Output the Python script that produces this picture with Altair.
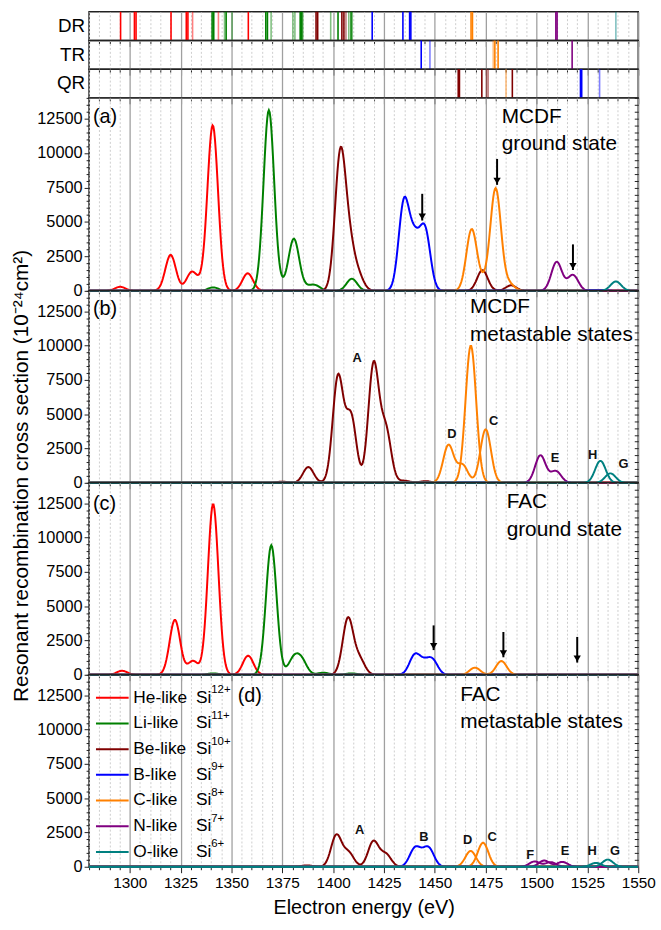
import numpy as np
import pandas as pd
import altair as alt

FONT = "Liberation Sans"
E_MIN, E_MAX = 1280, 1550
Y_MAX = 14000
SIGMA = 2.6
W = 555
H_STRIP = 29
H_MAIN = [195, 194, 194, 194]

SPECIES = ["He-like", "Li-like", "Be-like", "B-like", "C-like", "N-like", "O-like"]
CHARGES = ["12+", "11+", "10+", "9+", "8+", "7+", "6+"]
COLORS = ["#ff0000", "#008000", "#800000", "#0000ff", "#ff8000", "#800080", "#008080"]

# ---- resonance line positions in the DR / TR / QR strips (eV) ----
DR_E = [1295.5, 1302.3, 1303.1, 1320.3, 1327.8, 1328.6, 1330.9, 1343.6, 1358.3,
        1340.5, 1341.3, 1346.6, 1347.4, 1350.3, 1366.9, 1367.7, 1369.5, 1380.2, 1381.2,
        1383.8, 1384.6, 1385.1, 1398.8, 1402.4, 1407.7, 1408.8, 1409.4,
        1391.6, 1392.4, 1404.3, 1405.3, 1406.3,
        1419.2, 1434.3, 1437.6, 1438.2,
        1467.8, 1468.5, 1509.5, 1510.1, 1539.0]
DR_SP = ["He-like"] * 9 + ["Li-like"] * 18 + ["Be-like"] * 5 + ["B-like"] * 4 + \
        ["C-like"] * 2 + ["N-like"] * 2 + ["O-like"]
DR_FAINT = [0, 0, 0, 0, 0, 0, 1, 1, 0,
            0, 0, 1, 0, 1, 0, 0, 1, 1, 1,
            0, 0, 1, 1, 0, 1, 0, 1,
            0, 0, 0, 0, 1,
            0, 0, 0, 0,
            0, 0, 0, 0, 1]
TR_E = [1443.3, 1447.6, 1478.7, 1479.5, 1481.1, 1517.5]
TR_SP = ["B-like", "B-like", "C-like", "C-like", "C-like", "N-like"]
TR_FAINT = [0, 1, 1, 0, 0, 0]
QR_E = [1461.5, 1462.1, 1473.1, 1475.4, 1476.2, 1488.1, 1485.0, 1521.6, 1522.2, 1531.0]
QR_SP = ["Be-like"] * 6 + ["C-like"] + ["B-like"] * 3
QR_FAINT = [0, 0, 0, 1, 1, 0, 1, 0, 0, 1]

# ---- resonance peaks of each panel: species -> list of curves, curve = [(E, height)] ----
PEAKS_A = {
    "He-like": [[(1295.3, 290), (1320.1, 2600), (1330.4, 1300), (1334.5, 300),
                 (1340.8, 12000), (1358.0, 1270)]],
    "Li-like": [[(1341.0, 250), (1368.4, 13100), (1375.3, 200), (1380.7, 3750),
                 (1387.0, 200), (1391.1, 380), (1409.2, 880)]],
    "Be-like": [[(1403.5, 9700), (1408.0, 3000), (1412.5, 1000), (1473.4, 1500), (1487.5, 400)]],
    "B-like": [[(1434.8, 6300), (1440.0, 3300), (1445.2, 4300), (1527.0, 60), (1533.0, 60)]],
    "C-like": [[(1468.1, 4450), (1474.0, 500), (1479.9, 7400), (1486.5, 500)]],
    "N-like": [[(1509.9, 2100), (1517.9, 1150)]],
    "O-like": [[(1539.0, 680)]],
}
PEAKS_B = {
    "He-like": [[]],
    "Li-like": [[]],
    "Be-like": [[(1374.9, 80), (1387.8, 1150), (1402.4, 7700), (1408.8, 4800),
                 (1419.9, 8600), (1425.9, 3800), (1435.0, 150), (1445.4, 120)]],
    "B-like": [[]],
    "C-like": [[(1456.7, 2750), (1463.6, 1300), (1475.0, 3900)], [(1467.7, 10000)]],
    "N-like": [[(1501.9, 2000), (1509.5, 850)]],
    "O-like": [[(1531.4, 1600)], [(1536.3, 690)]],
}
PEAKS_C = {
    "He-like": [[(1296.2, 290), (1322.2, 4000), (1331.1, 1000), (1341.0, 12450), (1358.2, 1390)]],
    "Li-like": [[(1341.0, 100), (1369.6, 9450), (1380.5, 1100), (1384.5, 1000),
                 (1395.2, 150), (1409.0, 100)]],
    "Be-like": [[(1407.3, 4100), (1413.0, 1100)]],
    "B-like": [[(1440.0, 1350), (1444.4, 700), (1448.8, 1050)]],
    "C-like": [[(1469.7, 520), (1482.7, 1000)]],
    "N-like": [[]],
    "O-like": [[]],
}
PEAKS_D = {
    "He-like": [[]],
    "Li-like": [[]],
    "Be-like": [[(1387.1, 100), (1401.6, 2300), (1407.6, 1000), (1419.8, 1850), (1425.9, 900)]],
    "B-like": [[(1440.1, 1250), (1443.6, 400), (1447.1, 1250)]],
    "C-like": [[(1467.6, 1150)], [(1473.7, 1750)]],
    "N-like": [[(1499.0, 380), (1507.0, 330)], [(1503.8, 450), (1512.7, 350)]],
    "O-like": [[(1529.2, 280)], [(1535.0, 520)]],
}

# arrows: energy, top value, tip value
ARROWS_A = {"E": [1443.8, 1480.6, 1517.9], "top": [7040, 9570, 3370], "tip": [5100, 7690, 1510]}
ARROWS_C = {"E": [1449.4, 1483.7, 1520.0], "top": [3600, 3120, 2760], "tip": [1800, 1275, 890]}

# peak letters
LETTERS_B = {"t": ["A", "D", "C", "E", "H", "G"],
             "E": [1411.8, 1458.4, 1478.9, 1509.1, 1527.6, 1542.7],
             "v": [9080, 3550, 4520, 1820, 2000, 1390]}
LETTERS_D = {"t": ["A", "B", "D", "C", "F", "E", "H", "G"],
             "E": [1413.0, 1444.6, 1466.1, 1478.2, 1496.9, 1514.0, 1527.3, 1538.6],
             "v": [2650, 2140, 1925, 2140, 845, 1175, 1175, 1175]}

MAJOR = "datum.value % 25 == 0"


def curves_df(peaks):
    rows = []
    for sp in SPECIES:
        for k, pk in enumerate(peaks[sp]):
            sid = f"{sp}-{k}"
            if not pk:
                xs = np.array([E_MIN, E_MAX], float)
                ys = np.zeros(2)
            else:
                cs = [c for c, _ in pk]
                lo = max(E_MIN, min(cs) - 5 * SIGMA)
                hi = min(E_MAX, max(cs) + 5 * SIGMA)
                xs = np.arange(lo, hi + 1e-9, 0.4)
                ys = np.zeros_like(xs)
                for c, h in pk:
                    ys += h * np.exp(-(xs - c) ** 2 / (2 * SIGMA ** 2))
                xs = np.concatenate([[E_MIN], xs, [E_MAX]])
                ys = np.concatenate([[0.0], ys, [0.0]])
            for x, y in zip(xs, ys):
                rows.append((sid, sp, float(x), float(y)))
    return pd.DataFrame(rows, columns=["sid", "sp", "E", "v"])


def x_axis(bottom):
    kw = dict(values=list(range(E_MIN, E_MAX + 1, 5)), grid=True,
              gridDash={"condition": {"test": MAJOR, "value": []}, "value": [2, 2]},
              gridColor={"condition": {"test": MAJOR, "value": "#a0a0a0"}, "value": "#c8c8c8"},
              gridWidth={"condition": {"test": MAJOR, "value": 1.3}, "value": 0.9},
              tickSize={"condition": {"test": MAJOR, "value": 6}, "value": 3},
              tickColor="#222", tickWidth=1, domain=False,
              labels=bottom, labelExpr=f"{MAJOR} ? datum.value : ''",
              labelFlush=False, labelOverlap=False, labelFont=FONT, labelFontSize=15.5,
              labelColor="#000", labelPadding=3)
    if bottom:
        kw.update(title="Electron energy (eV)", titleFont=FONT, titleFontSize=20,
                  titleFontWeight="normal", titleColor="#000", titlePadding=7)
    else:
        kw.update(title=None)
    return alt.Axis(**kw)


XSCALE = alt.Scale(domain=[E_MIN, E_MAX], nice=False, zero=False)
YSCALE = alt.Scale(domain=[0, Y_MAX], nice=False)
Y_LEFT = alt.Axis(values=list(range(0, Y_MAX + 1, 500)),
                  labelExpr="datum.value % 2500 == 0 ? datum.value : ''",
                  tickSize={"condition": {"test": "datum.value % 2500 == 0", "value": 5}, "value": 3},
                  tickColor="#222", grid=False, domain=False, title=None,
                  labelFont=FONT, labelFontSize=16.5, labelColor="#000", labelPadding=2,
                  labelOverlap=False)
Y_RIGHT = alt.Axis(orient="right", values=list(range(0, Y_MAX + 1, 500)), labels=False,
                   tickSize=4, offset=-4, tickColor="#222", grid=False, domain=False, title=None)
COLOR = alt.Color("sp:N", scale=alt.Scale(domain=SPECIES, range=COLORS), legend=None)


def text_at(text, x, y, size, align="left", weight="normal", angle=0):
    return alt.Chart(pd.DataFrame({"t": [text]})).mark_text(
        font=FONT, fontSize=size, align=align, baseline="middle", fontWeight=weight,
        angle=angle, color="#000").encode(x=alt.value(x), y=alt.value(y), text="t:N")


def strip(name, es, sps, faint):
    df = pd.DataFrame({"E": es, "sp": sps, "faint": faint})
    rules = alt.Chart(df).mark_rule(strokeWidth=1.6).encode(
        x=alt.X("E:Q", scale=XSCALE, axis=x_axis(False)),
        y=alt.value(0), y2=alt.value(H_STRIP), color=COLOR,
        opacity=alt.condition("datum.faint == 1", alt.value(0.5), alt.value(1.0)))
    lab = text_at(name, -4, H_STRIP / 2, 19, align="right")
    return alt.layer(rules, lab).properties(width=W, height=H_STRIP)


def panel(peaks, h, bottom, extras):
    X = alt.X("E:Q", scale=XSCALE, axis=x_axis(bottom))
    lines = alt.Chart(curves_df(peaks)).mark_line(strokeWidth=2).encode(
        x=X, y=alt.Y("v:Q", scale=YSCALE, axis=Y_LEFT), color=COLOR, detail="sid:N")
    right = alt.Chart(pd.DataFrame({"v": [0]})).mark_point(opacity=0).encode(
        y=alt.Y("v:Q", scale=YSCALE, axis=Y_RIGHT))
    layers = [lines, right] + [e(X) for e in extras]
    return alt.layer(*layers).resolve_axis(y="independent").properties(width=W, height=h)


def arrows(data):
    def make(X):
        df = pd.DataFrame(data)
        yax = dict(scale=YSCALE, axis=None)
        shaft = alt.Chart(df).mark_rule(strokeWidth=2, color="#000").encode(
            x=X, y=alt.Y("top:Q", **yax), y2=alt.Y2("tip:Q"))
        head = alt.Chart(df).mark_point(shape="triangle-down", filled=True, size=55,
                                        color="#000", opacity=1, yOffset=-4).encode(
            x=X, y=alt.Y("tip:Q", **yax))
        return alt.layer(shaft, head)
    return make


def letters(data):
    def make(X):
        return alt.Chart(pd.DataFrame(data)).mark_text(
            font=FONT, fontSize=13, fontWeight="bold", color="#111").encode(
            x=X, y=alt.Y("v:Q", scale=YSCALE, axis=None), text="t:N")
    return make


def fixed(chart):
    return lambda X: chart


def legend_layers():
    out = []
    for i, (sp, ch, col) in enumerate(zip(SPECIES, CHARGES, COLORS)):
        y = 23.3 + i * 25.95
        d = pd.DataFrame({"n": [sp], "s": ["Si"], "c": [ch]})
        base = alt.Chart(d)
        out.append(fixed(base.mark_rule(strokeWidth=2, color=col).encode(
            x=alt.value(7), x2=alt.value(40), y=alt.value(y))))
        out.append(fixed(base.mark_text(font=FONT, fontSize=17.5, align="left", baseline="middle",
                                        color="#000").encode(
            x=alt.value(44.7), y=alt.value(y), text="n:N")))
        out.append(fixed(base.mark_text(font=FONT, fontSize=17.5, align="left", baseline="middle",
                                        color="#000").encode(
            x=alt.value(108), y=alt.value(y), text="s:N")))
        out.append(fixed(base.mark_text(font=FONT, fontSize=11.5, align="left", baseline="middle",
                                        color="#000").encode(
            x=alt.value(123.5), y=alt.value(y - 7.5), text="c:N")))
    return out


pa = panel(PEAKS_A, H_MAIN[0], False, [
    arrows(ARROWS_A),
    fixed(text_at("(a)", 4, 19.7, 20)),
    fixed(text_at("MCDF", 417, 19.7, 21)),
    fixed(text_at("ground state", 417, 46.3, 21)),
])
pb = panel(PEAKS_B, H_MAIN[1], False, [
    letters(LETTERS_B),
    fixed(text_at("(b)", 4, 18, 20)),
    fixed(text_at("MCDF", 385, 16.3, 21)),
    fixed(text_at("metastable states", 385, 44.7, 21)),
    fixed(text_at("Resonant recombination cross section (10\u207b\u00b2\u2074cm\u00b2)",
                  -68, 187, 21, align="center", angle=270)),
])
pc = panel(PEAKS_C, H_MAIN[2], False, [
    arrows(ARROWS_C),
    fixed(text_at("(c)", 4, 21.7, 20)),
    fixed(text_at("FAC", 422, 19, 21)),
    fixed(text_at("ground state", 422, 47.3, 21)),
])
pd_ = panel(PEAKS_D, H_MAIN[3], True, [
    letters(LETTERS_D),
    fixed(text_at("(d)", 150.3, 21.7, 20)),
    fixed(text_at("FAC", 375, 20, 21)),
    fixed(text_at("metastable states", 375, 47.3, 21)),
] + legend_layers())

chart = alt.vconcat(
    strip("DR", DR_E, DR_SP, DR_FAINT),
    strip("TR", TR_E, TR_SP, TR_FAINT),
    strip("QR", QR_E, QR_SP, QR_FAINT),
    pa, pb, pc, pd_,
    spacing=0, bounds="flush",
).properties(
    padding={"left": 10, "top": 5, "right": 5, "bottom": 5},
    background="white",
).configure_view(stroke="#222", strokeWidth=1.5)

chart.save("out.html", embed_options={"renderer": "svg", "actions": False})
